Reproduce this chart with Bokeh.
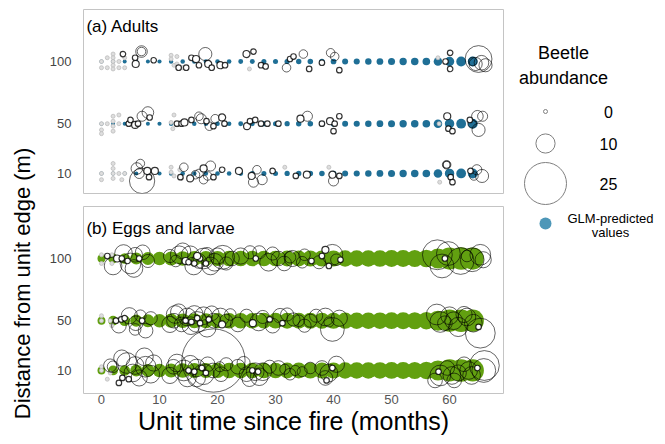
import numpy as np
from bokeh.plotting import figure
from bokeh.models import Range1d, FixedTicker, Label
from bokeh.layouts import row, column
from bokeh.embed import file_html
from bokeh.resources import INLINE
from bokeh.core.properties import value

FONT = "Liberation Sans"

# ---------------- data ----------------
distances = [10, 50, 100]
x_ticks = [0, 10, 20, 30, 40, 50, 60]
legend_counts = [0, 10, 25]

pred_months = list(range(0, 65, 2))
adult_pred = [0.0, 0.0, 0.0, 0.0, 0.0, 0.1, 0.3, 0.3, 0.3, 0.3, 0.4, 0.4, 0.6, 0.6, 0.7, 0.7, 0.8,
              0.9, 1.0, 1.0, 1.1, 1.3, 1.4, 1.6, 1.8, 2.0, 2.2, 2.3, 2.4, 3.0, 3.6, 3.8, 3.9]
egg_pred = [2.6, 3.8, 4.4, 5.4, 5.9, 6.3, 6.7, 7.0, 7.2, 7.3, 7.4, 7.5, 7.6, 7.6, 7.7, 7.7, 7.8,
            7.8, 7.9, 7.9, 8.0, 8.1, 8.2, 8.2, 8.3, 8.4, 8.5, 8.6, 8.8, 10.6, 12.0, 12.3, 12.0]

# observations: (month, vertical jitter in m, beetle count)
adults_100 = [(0,0,0),(0,-5,0),(1,3,0),(1,-5,0),(2,6,0),(2,3,0),(2,0,0),(2,-3,0),(2,-6,0),(3,0,0),(3,-5,0),(4,3,0),(4,-5,0),
    (3.7,6,1),(5.8,3,1),(5.9,-2,2),(6.9,8,5),(6.9,8,3),(9.0,1,1),
    (12,5,0),(12,2,0),(12.5,-3,0),(13,4,0),(13,-2,0),(14,-5,0),
    (13.3,-5,1),(14.6,-5,1),(15.5,3,1),(16.3,2,2),(16.8,-3,1),(17.9,6,6),(18.4,-2,2),(19.0,-5,1),(20.5,-3,2),(21.3,-3,1),
    (25.5,-6,0),(25,6,2),(26.2,8,1),(27.5,-3,1),(28.3,-4,1),
    (31.9,-5,3),(32.5,2,1),(33.1,4,1),(34.8,6,3),(35.8,-6,1),
    (38,-1,1),(39.5,7,3),(40.2,4,3),(41,-7,1),
    (58,3,0),(59.3,0,1),(60.1,7,1),(60.1,-6,1),(64,0,3),(64.5,-2,6),(65,2,15),(65.5,-1,7),(66.2,-3,6)]
adults_50 = [(0,0,0),(0,-5,0),(1,0,0),(2,6,0),(2,2,0),(2,-2,0),(2,-6,0),(3,7,0),(3,0,0),(0,-8,0),
    (4.7,0,1),(5.0,3,1),(5.8,-1,2),(7.0,6,4),(8.0,9,5),(8.3,5,1),(6.3,0,1),
    (12,1,0),(12.5,7,0),(13,-1,0),(12.3,-4,0),
    (13,0,1),(13.8,0,1),(14.3,1,2),(15.5,3,1),(16.8,6,3),(17.2,4,4),(18.1,2,1),(18.6,-2,3),(19.6,4,3),(19.3,-2,1),(20.8,5,2),(21.2,0,1),
    (25.1,-2,2),(25.6,2,1),(26.5,3,1),(27.5,0,1),(28.6,0,1),(30.5,0,1),
    (34.3,4,2),(35.5,6,4),(38,0,1),(39.4,2,2),(40.2,0,1),(40.0,-6,1),(41,6,1),
    (58.2,0,0),(59.6,6,2),(59.8,-4,1),(60.5,-6,1),(63.5,3,1),(63.9,0,3),(64.8,6,5),(65.7,6,4),(65,-5,6)]
adults_10 = [(0,0,0),(0,-5,0),(2,8,0),(2,4,0),(2,0,0),(2,-4,0),(3,0,0),(4,0,0),(3.5,-5,0),
    (6.1,4,5),(6.5,0,4),(7.0,-6,14),(6.7,8,3),(7.9,2,2),(9.2,2,2),(8.2,-3,1),
    (12,5,0),(12,1,0),(12.5,-2,0),(13.5,3,0),(13.8,-4,0),
    (14.2,5,3),(13.6,-3,1),(15.3,-4,2),(16.2,-1,3),(16.8,0,3),(17.6,4,2),(18.8,6,4),(18.3,-2,3),(17.6,-5,3),(19.3,-3,1),(20.8,3,1),
    (23.7,2,2),(26.8,3,3),(25.9,-2,2),(26.2,-7,4),(27.7,-5,4),(29.5,2,1),
    (31.6,5,0),(33.5,-2,1),(35.4,-1,2),(39.2,5,0),(39.8,-1,2),(40.0,-6,4),(41.0,-2,1),
    (58.3,-7,0),(59.5,7,2),(59.5,7,3),(60.2,-3,1),(60.5,-7,1),(63.6,2,1),(64.2,-2,3),(64.7,3,4),(65.6,-2,6)]

eggs_100 = [(0,3,0),(0,-4,0),(1.8,3,0),(1.8,-4,0),
    (1.0,2,1),(2.7,0,2),(3.5,0,1),(3.8,4,9),(5.0,-4,11),(5.8,3,7),(7.1,5,7),(5.6,-8,9),(6.5,0,1),(4.5,-2,1),
    (2.0,-6,9),(8.0,-2,6),
    (12.8,-2,5),(13.4,3,9),(14.5,-2,2),(15.3,3,9),(15.9,-6,9),(16.8,-2,7),(17.6,0,11),(18.2,3,7),(18.8,-6,9),(20.0,2,8),(20.9,1,13),
    (11.8,2,6),(14.0,6,8),(19.5,-3,9),(21.5,-4,6),
    (15.0,-3,1),(16.0,-4,1),(17.0,0,1),(18.0,-4,1),(16.5,2,2),
    (22.5,0,7),(25.6,5,6),(26.6,0,1),(27.2,5,6),(28.8,-3,9),(30.5,0,7),(32.5,1,5),(32.9,0,8),(34.6,-3,5),(36.2,-2,1),
    (24.0,2,8),(29.5,4,6),(31.5,-4,7),(35.0,3,5),(37.5,-3,6),
    (38.0,2,1),(38.6,7,2),(39.8,3,11),(39.2,-6,1),(40.5,-1,5),(41.2,-1,1),
    (57.9,3,17),(58.7,-6,13),(59.2,0,1),(59.8,4,13),(61.9,-2,15),(63.9,-1,13),(65.3,3,11),(65.8,-1,8),(63.0,2,5)]
eggs_50 = [(0,4,0),(0,0,0),(1.5,0,0),(1.8,-4,0),
    (2.5,0,1),(3.4,1,1),(4.0,2,1),(5.9,-2,7),(6.7,4,5),(7.0,0,1),(7.6,-8,7),(5.8,-7,5),
    (3.0,-4,7),(4.8,4,8),(8.5,2,6),
    (12.5,0,7),(12.7,5,9),(13.8,-3,7),(14.8,3,9),(15.4,-4,9),(16.5,-1,11),(17.6,4,9),(18.2,-6,9),(19.3,0,7),(20.5,3,9),(20.8,-3,2),
    (11.8,-3,8),(13.3,7,8),(16.0,5,9),(19.0,6,7),(21.5,0,6),
    (14.5,0,1),(15.5,-1,1),(16.5,2,1),(17.0,-2,1),(18.5,1,1),
    (22.2,5,5),(26.1,-2,2),(27.1,-1,9),(27.8,3,6),(29.0,1,1),(30.8,4,7),(31.2,-2,1),(33.1,1,6),(34.0,0,5),(36.0,0,6),
    (23.5,-3,7),(25.0,4,6),(29.5,-4,7),(32.0,5,6),(35.0,-4,6),(37.0,4,6),
    (38.6,3,9),(39.2,-1,4),(39.8,-7,13),(41.0,2,8),
    (57.8,5,11),(58.4,-1,11),(59.2,-2,7),(60.0,4,9),(60.7,0,9),(63.0,3,9),(64.1,-2,9),(65.3,-10,17),(65.0,-5,1),
    (61.5,-5,10),(62.5,5,8)]
eggs_10 = [(0,3,0),(0,0,0),(1.5,-2,0),(1.0,-7,0),
    (2.0,3,5),(4.4,6,11),(5.4,-2,9),(5.8,4,9),(4.7,-7,1),(3.6,-6,1),(3.0,-10,1),(7.6,3,11),(8.5,-3,9),(7.4,11,9),
    (1.5,4,6),(3.5,10,8),(6.5,-6,8),(9.0,6,8),
    (12.4,3,7),(14.2,0,11),(15.3,5,9),(16.4,2,9),(16.4,-6,9),(17.6,-3,11),(18.3,5,7),(19.2,0,7),(20.4,3,4),(20.6,-3,7),(19.3,8,39),
    (11.8,-4,8),(13.0,6,9),(14.8,-6,9),(21.5,5,6),
    (15.0,0,1),(16.0,-1,1),(17.3,2,1),(18.0,-2,1),
    (25.0,-3,7),(25.5,-7,7),(26.5,-1,9),(27.2,-5,9),(27.8,-1,9),(26.0,0,1),(27.0,-1,1),(30.5,2,7),(31.6,1,4),(33.4,0,4),(34.6,-1,4),
    (23.5,3,7),(24.5,6,6),(29.0,3,6),(32.5,-3,5),(36.0,2,5),
    (38.0,2,7),(38.6,-6,7),(39.2,-2,9),(39.8,2,1),(38.8,-8,1),(40.5,5,8),
    (58.1,-1,1),(58.4,-4,11),(59.6,2,7),(60.4,-4,9),(60.8,-8,7),(63.3,0,9),(63.8,-4,9),(65.9,0,13),(66.0,4,17),(64.8,2,1),
    (57.5,-8,7),(61.5,-2,8),(62.5,5,7)]

adult_obs = {100: adults_100, 50: adults_50, 10: adults_10}
egg_obs = {100: eggs_100, 50: eggs_50, 10: eggs_10}

BLUE = "#1f6f96"
BLUE_LEGEND = "#4d97b8"
GREEN = "#62a010"

PANEL_W = 463


def size_for(n):
    return 4 + 1.52 * np.asarray(n, dtype=float)


def make_panel(obs, pred, color, title, height, top, bottom, ystart, show_x, title_y):
    p = figure(width=PANEL_W, height=height, x_range=Range1d(-3.1, 69.3), y_range=Range1d(ystart, 141.8),
               output_backend="svg", toolbar_location=None,
               x_axis_location="below" if show_x else None,
               min_border_left=41, min_border_right=2, min_border_top=top, min_border_bottom=bottom)
    p.grid.visible = False
    p.outline_line_color = "#c4c4c4"
    p.outline_line_width = 1
    p.background_fill_color = "white"

    px, py, ps = [], [], []
    for d in distances:
        px += pred_months
        py += [d] * len(pred_months)
        ps += list(size_for(pred))
    p.scatter(x=px, y=py, size=ps, marker="circle", fill_color=color, line_color=None)

    zx, zy, zs, bx, by, bs, sx, sy, ss = [], [], [], [], [], [], [], [], []
    for d in distances:
        for t, j, n in obs[d]:
            if n == 0:
                zx.append(t); zy.append(d + j); zs.append(float(size_for(n)))
            elif n <= 2:
                sx.append(t); sy.append(d + j); ss.append(float(size_for(n)))
            else:
                bx.append(t); by.append(d + j); bs.append(float(size_for(n)))
    p.scatter(x=zx, y=zy, size=zs, marker="circle", fill_color="#dedede", line_color="#bdbdbd", line_width=0.8)
    p.scatter(x=bx, y=by, size=bs, marker="circle", fill_color=None, line_color="black",
              line_alpha=0.6, line_width=1.0)
    p.scatter(x=sx, y=sy, size=ss, marker="circle", fill_color="white", line_color="black",
              line_alpha=0.8, line_width=1.2)

    p.yaxis.ticker = FixedTicker(ticks=distances)
    p.yaxis.axis_line_color = None
    p.yaxis.major_tick_line_color = None
    p.yaxis.minor_tick_line_color = None
    p.yaxis.major_label_text_font = FONT
    p.yaxis.major_label_text_font_size = "13px"
    p.yaxis.major_label_text_color = "#444444"
    p.yaxis.major_label_standoff = 6
    if show_x:
        p.xaxis.ticker = FixedTicker(ticks=x_ticks)
        p.xaxis.axis_line_color = None
        p.xaxis.major_tick_line_color = None
        p.xaxis.minor_tick_line_color = None
        p.xaxis.major_tick_out = 0
        p.xaxis.major_tick_in = 0
        p.xaxis.major_label_text_font = FONT
        p.xaxis.major_label_text_font_size = "13px"
        p.xaxis.major_label_text_color = "#555555"
        p.xaxis.major_label_standoff = 1
        p.xaxis.axis_label = "Unit time since fire (months)"
        p.xaxis.axis_label_text_font = FONT
        p.xaxis.axis_label_text_font_size = "25px"
        p.xaxis.axis_label_text_font_style = "normal"
        p.xaxis.axis_label_text_color = "black"
        p.xaxis.axis_label_standoff = 0

    p.add_layout(Label(x=-2.6, y=title_y, text=title, text_font=FONT, text_font_size="17px",
                       text_baseline="top", text_color="black"))
    return p


TOTAL_H = 442
pa = make_panel(adult_obs, adult_pred, BLUE, "(a) Adults", 200, 9, 7, -6.1, False, 135.5)
pb = make_panel(egg_obs, egg_pred, GREEN, "(b) Eggs and larvae", TOTAL_H - 200, 6, 49, -8.5, True, 132.0)

# y-axis title panel
tf = figure(width=42, height=TOTAL_H, x_range=Range1d(0, 42), y_range=Range1d(0, TOTAL_H),
            output_backend="svg", toolbar_location=None, x_axis_location=None, y_axis_location=None,
            min_border=0, min_border_left=0, min_border_right=0, min_border_top=0, min_border_bottom=0)
tf.grid.visible = False
tf.outline_line_color = None
tf.text(x=[22], y=[TOTAL_H - 283], text=["Distance from unit edge (m)"], angle=np.pi / 2,
        text_align="center", text_baseline="middle", text_font=value(FONT),
        text_font_size="22px", text_color="black")

# legend panel (positions in px from the legend panel's left / top)
lf = figure(width=156, height=TOTAL_H, x_range=Range1d(0, 156), y_range=Range1d(TOTAL_H, 0),
            output_backend="svg", toolbar_location=None, x_axis_location=None, y_axis_location=None,
            min_border=0, min_border_left=0, min_border_right=0, min_border_top=0, min_border_bottom=0)
lf.grid.visible = False
lf.outline_line_color = None
lf.text(x=[58, 58], y=[52, 77], text=["Beetle", "abundance"], text_align="center",
        text_baseline="middle", text_font=value(FONT), text_font_size="18px", text_color="black")
leg_y = [111, 143, 183]
lf.scatter(x=[40, 40, 40], y=leg_y, size=list(size_for(legend_counts)), marker="circle",
           fill_color="white", line_color="#808080", line_width=1)
lf.text(x=[103, 103, 103], y=leg_y, text=[str(c) for c in legend_counts], text_align="center",
        text_baseline="middle", text_font=value(FONT), text_font_size="16px", text_color="black")
lf.scatter(x=[40], y=[223], size=[12], marker="circle", fill_color=BLUE_LEGEND, line_color=None)
lf.text(x=[105, 105], y=[218, 232], text=["GLM-predicted", "values"], text_align="center",
        text_baseline="middle", text_font=value(FONT), text_font_size="13px", text_color="black")

layout = row(tf, column(pa, pb), lf)
open("out.html", "w").write(file_html(layout, INLINE))
